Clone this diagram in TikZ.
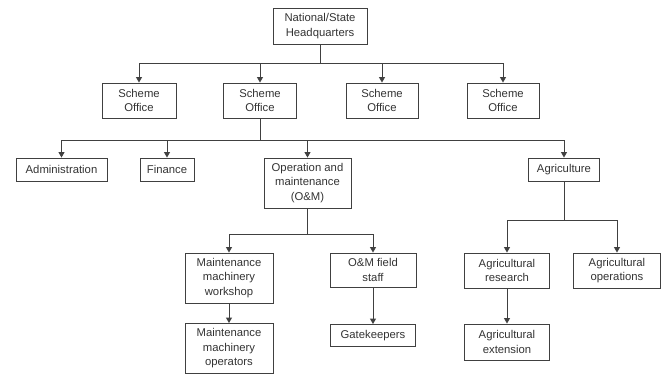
\documentclass[tikz,border=0pt]{standalone}
\usepackage{fontspec}
\setmainfont{Liberation Sans}
\usetikzlibrary{arrows.meta}
\definecolor{ink}{HTML}{333333}
\definecolor{edge}{HTML}{404040}
\tikzset{
  orgbox/.style={draw=edge, line width=0.9pt, text=ink, align=center, inner sep=0pt,
    font=\fontsize{11.3}{14.5}\selectfont},
  link/.style={draw=edge, line width=0.9pt},
  arr/.style={link, -{Triangle[length=5.5pt,width=6pt]}},
}
\newcommand{\orgnode}[6]{% name, x, y, width, height, text
  \node[orgbox, minimum width=#4pt, minimum height=#5pt] (#1) at (#2,#3) {#6};}
\begin{document}
\begin{tikzpicture}[x=1pt,y=-1pt]
\useasboundingbox (0,0) rectangle (665,373);

% headquarters and scheme offices
\orgnode{hq}{320}{26}{94}{36}{National/State\\Headquarters}
\orgnode{soa}{139}{100.5}{74}{35}{Scheme\\Office}
\orgnode{sob}{260}{100.5}{73}{35}{Scheme\\Office}
\orgnode{soc}{382}{100.5}{72}{35}{Scheme\\Office}
\orgnode{sod}{503}{100.5}{72}{35}{Scheme\\Office}

% departments
\orgnode{adm}{61.5}{169.5}{91}{23}{Administration}
\orgnode{fin}{167}{169.5}{54}{23}{Finance}
\orgnode{om}{307.5}{183}{87}{50}{Operation and\\maintenance\\(O\&M)}
\orgnode{agr}{564}{169.5}{71}{23}{Agriculture}

% operation and maintenance branch
\orgnode{mmw}{229}{278}{88}{50}{Maintenance\\machinery\\workshop}
\orgnode{mmo}{229}{348.5}{88}{50}{Maintenance\\machinery\\operators}
\orgnode{fs}{373}{270}{86}{34}{O\&M field\\staff}
\orgnode{gk}{373}{335.5}{85}{22}{Gatekeepers}

% agriculture branch
\orgnode{ar}{507}{270.5}{85}{35}{Agricultural\\research}
\orgnode{ao}{617}{270.5}{87}{35}{Agricultural\\operations}
\orgnode{ae}{507}{342}{85}{36}{Agricultural\\extension}

% bus junctions
\coordinate (ja) at (320,63);
\coordinate (jb) at (260,140);
\coordinate (jc) at (307.5,234);
\coordinate (jd) at (564,220);

% connectors
\draw[link] (hq.south) -- (ja);
\foreach \t in {soa,sob,soc,sod} \draw[arr] (ja) -| (\t.north);

\draw[link] (sob.south) -- (jb);
\foreach \t in {adm,fin,om,agr} \draw[arr] (jb) -| (\t.north);

\draw[link] (om.south) -- (jc);
\draw[arr] (jc) -| (mmw.north);
\draw[arr] (jc) -| (fs.north);
\draw[arr] (mmw.south) -- (mmo.north);
\draw[arr] (fs.south) -- (gk.north);

\draw[link] (agr.south) -- (jd);
\draw[arr] (jd) -| (ar.north);
\draw[arr] (jd) -| (ao.north);
\draw[arr] (ar.south) -- (ae.north);
\end{tikzpicture}
\end{document}
